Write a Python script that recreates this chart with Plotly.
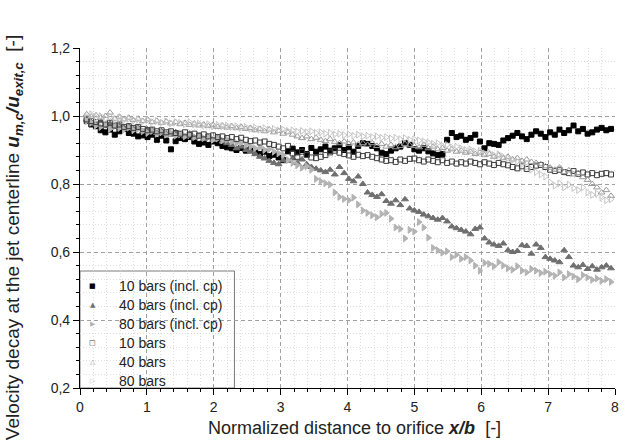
import plotly.graph_objects as go

# Normalized downstream positions x/b shared by all measurement series
x_pos = [
    0.10, 0.17, 0.24, 0.31, 0.38, 0.45, 0.52, 0.59, 0.66, 0.73,
    0.80, 0.87, 0.94, 1.01, 1.08, 1.15, 1.22, 1.29, 1.36, 1.43,
    1.50, 1.57, 1.64, 1.71, 1.78, 1.85, 1.92, 1.99, 2.06, 2.13,
    2.20, 2.27, 2.34, 2.41, 2.48, 2.55, 2.62, 2.69, 2.76, 2.83,
    2.90, 2.97, 3.04, 3.11, 3.18, 3.25, 3.32, 3.39, 3.46, 3.53,
    3.60, 3.67, 3.74, 3.81, 3.88, 3.95, 4.02, 4.09, 4.16, 4.23,
    4.30, 4.37, 4.44, 4.51, 4.58, 4.65, 4.72, 4.79, 4.86, 4.93,
    5.00, 5.07, 5.14, 5.21, 5.28, 5.35, 5.42, 5.49, 5.56, 5.63,
    5.70, 5.77, 5.84, 5.91, 5.98, 6.05, 6.12, 6.19, 6.26, 6.33,
    6.40, 6.47, 6.54, 6.61, 6.68, 6.75, 6.82, 6.89, 6.96, 7.03,
    7.10, 7.17, 7.24, 7.31, 7.38, 7.45, 7.52, 7.59, 7.66, 7.73,
    7.80, 7.87, 7.94,
]

# Centerline velocity ratio u_m,c / u_exit,c
u_10_cp = [
    0.985, 0.975, 0.970, 0.958, 0.952, 0.960, 0.945, 0.955, 0.962, 0.950,
    0.948, 0.940, 0.943, 0.938, 0.945, 0.930, 0.942, 0.928, 0.902, 0.926,
    0.935, 0.932, 0.938, 0.925, 0.918, 0.922, 0.915, 0.925, 0.920, 0.912,
    0.908, 0.905, 0.900, 0.906, 0.898, 0.902, 0.893, 0.888, 0.895, 0.882,
    0.886, 0.878, 0.870, 0.896, 0.904, 0.893, 0.900, 0.888, 0.906, 0.895,
    0.902, 0.910, 0.898, 0.905, 0.914, 0.900, 0.908, 0.895, 0.912, 0.920,
    0.918, 0.912, 0.905, 0.892, 0.888, 0.898, 0.905, 0.910, 0.920, 0.915,
    0.902, 0.898, 0.905, 0.896, 0.890, 0.885, 0.888, 0.930, 0.950, 0.938,
    0.942, 0.930, 0.935, 0.945, 0.925, 0.905, 0.920, 0.918, 0.915, 0.928,
    0.935, 0.942, 0.950, 0.940, 0.932, 0.945, 0.955, 0.948, 0.938, 0.952,
    0.945, 0.960, 0.950, 0.958, 0.972, 0.955, 0.962, 0.948, 0.952, 0.960,
    0.965, 0.958, 0.962,
]
u_40_cp = [
    0.990, 0.982, 0.975, 0.985, 0.970, 0.978, 0.968, 0.972, 0.965, 0.970,
    0.962, 0.966, 0.955, 0.960, 0.958, 0.950, 0.955, 0.948, 0.945, 0.952,
    0.945, 0.940, 0.948, 0.936, 0.942, 0.932, 0.938, 0.930, 0.935, 0.925,
    0.920, 0.915, 0.905, 0.910, 0.900, 0.895, 0.888, 0.880, 0.875, 0.868,
    0.862, 0.858, 0.870, 0.868, 0.875, 0.862, 0.872, 0.858, 0.850, 0.845,
    0.840, 0.835, 0.842, 0.828, 0.850, 0.832, 0.815, 0.808, 0.822, 0.800,
    0.775, 0.768, 0.762, 0.770, 0.750, 0.742, 0.752, 0.738, 0.755, 0.728,
    0.722, 0.718, 0.710, 0.705, 0.700, 0.695, 0.700, 0.690, 0.675, 0.670,
    0.665, 0.660, 0.652, 0.668, 0.672, 0.640, 0.628, 0.622, 0.618, 0.625,
    0.605, 0.600, 0.603, 0.620, 0.618, 0.595, 0.622, 0.612, 0.585, 0.580,
    0.575, 0.570, 0.605, 0.585, 0.560, 0.555, 0.562, 0.550, 0.558, 0.548,
    0.555, 0.560, 0.552,
]
u_80_cp = [
    0.985, 0.980, 0.972, 0.968, 0.975, 0.962, 0.970, 0.965, 0.960, 0.966,
    0.958, 0.962, 0.955, 0.950, 0.956, 0.948, 0.952, 0.945, 0.950, 0.942,
    0.946, 0.940, 0.944, 0.938, 0.942, 0.935, 0.938, 0.930, 0.934, 0.928,
    0.930, 0.925, 0.920, 0.922, 0.915, 0.910, 0.905, 0.908, 0.900, 0.902,
    0.895, 0.890, 0.885, 0.870, 0.862, 0.855, 0.848, 0.852, 0.842, 0.815,
    0.808, 0.802, 0.798, 0.775, 0.762, 0.756, 0.752, 0.760, 0.740, 0.722,
    0.715, 0.708, 0.702, 0.712, 0.715, 0.698, 0.672, 0.668, 0.640, 0.665,
    0.660, 0.688, 0.672, 0.642, 0.612, 0.605, 0.598, 0.602, 0.585, 0.592,
    0.580, 0.585, 0.575, 0.560, 0.545, 0.568, 0.565, 0.558, 0.570, 0.560,
    0.552, 0.548, 0.558, 0.545, 0.540, 0.550, 0.545, 0.538, 0.542, 0.535,
    0.530, 0.540, 0.525, 0.535, 0.528, 0.520, 0.532, 0.525, 0.518, 0.522,
    0.515, 0.520, 0.512,
]
u_10 = [
    0.990, 0.985, 0.982, 0.978, 0.975, 0.980, 0.972, 0.975, 0.968, 0.970,
    0.965, 0.968, 0.962, 0.958, 0.960, 0.955, 0.958, 0.952, 0.955, 0.950,
    0.948, 0.952, 0.945, 0.948, 0.942, 0.946, 0.940, 0.943, 0.938, 0.940,
    0.935, 0.938, 0.932, 0.936, 0.930, 0.926, 0.928, 0.922, 0.925, 0.918,
    0.915, 0.910, 0.905, 0.912, 0.890, 0.880, 0.895, 0.885, 0.878, 0.876,
    0.880, 0.885, 0.893, 0.898, 0.892, 0.888, 0.884, 0.880, 0.886, 0.882,
    0.885, 0.880, 0.876, 0.872, 0.868, 0.870, 0.865, 0.872, 0.868, 0.874,
    0.875, 0.870, 0.866, 0.872, 0.868, 0.864, 0.870, 0.862, 0.866, 0.860,
    0.864, 0.860, 0.866, 0.862, 0.858, 0.864, 0.860, 0.856, 0.862, 0.858,
    0.855, 0.850, 0.846, 0.852, 0.844, 0.850, 0.854, 0.856, 0.850, 0.842,
    0.838, 0.842, 0.835, 0.832, 0.838, 0.830, 0.834, 0.828, 0.832, 0.826,
    0.830, 0.832, 0.828,
]
u_40 = [
    1.005, 0.998, 1.002, 0.995, 1.000, 1.010, 0.992, 0.998, 0.990, 0.995,
    0.988, 0.992, 0.985, 0.990, 0.982, 0.986, 0.980, 0.984, 0.978, 0.982,
    0.976, 0.980, 0.974, 0.978, 0.972, 0.975, 0.970, 0.974, 0.968, 0.972,
    0.966, 0.970, 0.964, 0.968, 0.962, 0.965, 0.958, 0.962, 0.955, 0.960,
    0.952, 0.956, 0.948, 0.952, 0.945, 0.940, 0.935, 0.940, 0.932, 0.936,
    0.930, 0.926, 0.932, 0.924, 0.920, 0.925, 0.918, 0.922, 0.916, 0.920,
    0.915, 0.920, 0.912, 0.918, 0.910, 0.915, 0.908, 0.912, 0.918, 0.914,
    0.912, 0.908, 0.915, 0.905, 0.910, 0.902, 0.906, 0.898, 0.902, 0.895,
    0.898, 0.892, 0.895, 0.888, 0.892, 0.885, 0.888, 0.880, 0.884, 0.876,
    0.880, 0.872, 0.876, 0.868, 0.872, 0.865, 0.862, 0.858, 0.852, 0.848,
    0.842, 0.848, 0.835, 0.840, 0.828, 0.832, 0.820, 0.812, 0.800, 0.790,
    0.775, 0.782, 0.765,
]
u_80 = [
    0.998, 1.005, 0.995, 1.000, 0.992, 0.998, 0.990, 0.995, 0.988, 0.992,
    0.986, 0.990, 0.984, 0.988, 0.982, 0.985, 0.980, 0.984, 0.978, 0.982,
    0.980, 0.976, 0.982, 0.975, 0.978, 0.972, 0.976, 0.970, 0.974, 0.970,
    0.972, 0.968, 0.970, 0.965, 0.968, 0.962, 0.966, 0.960, 0.964, 0.960,
    0.962, 0.958, 0.960, 0.956, 0.958, 0.954, 0.956, 0.952, 0.955, 0.950,
    0.952, 0.948, 0.950, 0.946, 0.948, 0.944, 0.946, 0.942, 0.945, 0.940,
    0.942, 0.938, 0.940, 0.936, 0.938, 0.934, 0.936, 0.932, 0.935, 0.930,
    0.932, 0.928, 0.925, 0.922, 0.918, 0.920, 0.912, 0.915, 0.908, 0.910,
    0.905, 0.900, 0.902, 0.895, 0.898, 0.890, 0.892, 0.885, 0.888, 0.880,
    0.876, 0.870, 0.866, 0.858, 0.850, 0.842, 0.835, 0.828, 0.822, 0.805,
    0.795, 0.802, 0.790, 0.798, 0.788, 0.782, 0.790, 0.775, 0.768, 0.772,
    0.760, 0.752, 0.755,
]

series_names = [
    "10 bars (incl. cp)", "40 bars (incl. cp)", "80 bars (incl. cp)",
    "10 bars", "40 bars", "80 bars",
]
series_values = [u_10_cp, u_40_cp, u_80_cp, u_10, u_40, u_80]

# Marker styling per series: (symbol, size, colour, legend glyph)
marker_styles = [
    ("square", 5, "#000000", "\u25a0"),
    ("triangle-up", 6, "#6f6f6f", "\u25b2"),
    ("triangle-right", 6, "#b3b3b3", "\u25b6"),
    ("square-open", 5, "#3c3c3c", "\u25a1"),
    ("triangle-up-open", 6, "#9a9a9a", "\u25b3"),
    ("triangle-right-open", 6, "#c4c4c4", "\u25b7"),
]

FONT = "Liberation Sans, Arial, sans-serif"
TEXT = "#222222"

# Plot frame in pixels
W, H = 631, 440
L, R, T, B = 80, 14, 48, 52
PW, PH = W - L - R, H - T - B


def px_x(px):
    return (px - L) / PW


def px_y(py):
    return (H - B - py) / PH


fig = go.Figure()
for name, yvals, (sym, size, col, _) in zip(series_names, series_values, marker_styles):
    fig.add_trace(go.Scatter(
        x=x_pos, y=yvals, mode="markers", name=name, showlegend=False,
        marker=dict(symbol=sym, size=size, color=col, line=dict(color=col, width=1)),
    ))

axis_common = dict(
    showline=True, linecolor="#000000", linewidth=1.2,
    ticks="outside", ticklen=6, tickwidth=1, tickcolor="#000000",
    tickfont=dict(family=FONT, size=14, color=TEXT),
    showgrid=True, gridcolor="#a0a0a0", griddash="4px,3px", gridwidth=1,
    zeroline=False,
)

annotations = []
shapes = []

# Legend box in the lower-left corner of the plot
leg_top = 271
shapes.append(dict(
    type="rect", xref="paper", yref="paper", layer="between",
    x0=0, x1=px_x(235), y0=0, y1=px_y(leg_top),
    line=dict(color="#7a7a7a", width=1), fillcolor="#ffffff",
))
row_h = 19
for i, (name, (_, _, col, glyph)) in enumerate(zip(series_names, marker_styles)):
    cy = leg_top + 15 + i * row_h
    annotations.append(dict(
        xref="paper", yref="paper", x=px_x(93), y=px_y(cy),
        text=glyph, showarrow=False, xanchor="center", yanchor="middle",
        font=dict(family="DejaVu Sans", size=7, color=col),
    ))
    annotations.append(dict(
        xref="paper", yref="paper", x=px_x(117), y=px_y(cy),
        text=name, showarrow=False, xanchor="left", yanchor="middle",
        font=dict(family=FONT, size=14, color=TEXT),
    ))

# Axis titles
annotations.append(dict(
    xref="paper", yref="paper", x=px_x(14), y=px_y(238),
    text="Velocity decay at the jet centerline "
         "<b><i>u<sub>m,c</sub>/u<sub>exit,c</sub></i></b>  [-]",
    textangle=-90, showarrow=False, xanchor="center", yanchor="middle",
    font=dict(family=FONT, size=19, color=TEXT),
))
annotations.append(dict(
    xref="paper", yref="paper", x=px_x(356), y=px_y(428),
    text="Normalized distance to orifice <b><i>x/b</i></b>  [-]",
    showarrow=False, xanchor="center", yanchor="middle",
    font=dict(family=FONT, size=18, color=TEXT),
))

fig.update_layout(
    width=W, height=H,
    margin=dict(l=L, r=R, t=T, b=B),
    paper_bgcolor="#ffffff", plot_bgcolor="#ffffff",
    separators=",.",
    font=dict(family=FONT, color=TEXT),
    showlegend=False,
    xaxis=dict(
        axis_common,
        range=[0, 8], dtick=1, tick0=0,
        minor=dict(dtick=0.2, ticks="outside", ticklen=3, tickcolor="#000000",
                   showgrid=True, gridcolor="#dddddd", griddash="1px,2px"),
    ),
    yaxis=dict(
        axis_common,
        range=[0.2, 1.2], dtick=0.2, tick0=0.2, tickformat=".1f",
        minor=dict(dtick=0.04, ticks="outside", ticklen=3, tickcolor="#000000",
                   showgrid=True, gridcolor="#dddddd", griddash="1px,2px"),
    ),
    yaxis2=dict(
        overlaying="y", side="right", matches="y", range=[0.2, 1.2],
        showline=True, linecolor="#000000", linewidth=1.2,
        ticks="inside", ticklen=6, tickcolor="#000000", dtick=0.2, tick0=0.2,
        minor=dict(dtick=0.04, ticks="inside", ticklen=3, tickcolor="#000000"),
        showticklabels=False, showgrid=False, zeroline=False,
    ),
    shapes=shapes,
    annotations=annotations,
)

fig.write_html("out.html")
